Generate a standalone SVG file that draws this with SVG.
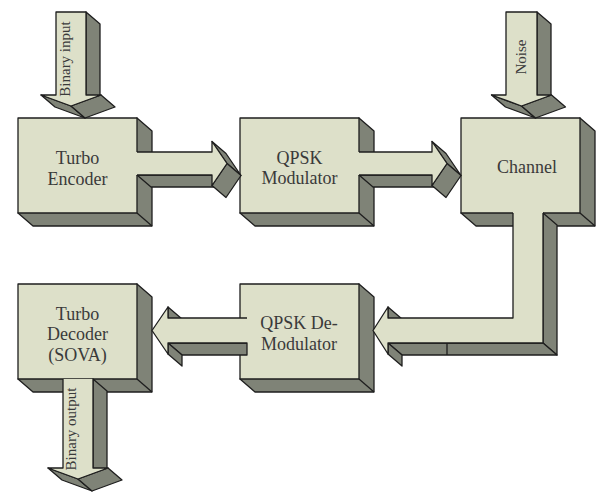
<svg xmlns="http://www.w3.org/2000/svg" width="600" height="492" viewBox="0 0 600 492">
<style>
.lt{fill:#dde0c9;stroke:#1e1e1e;stroke-width:1.3;stroke-linejoin:round}
.dk{fill:#7f8377;stroke:#1e1e1e;stroke-width:1.3;stroke-linejoin:round}
.fl{fill:#dde0c9;stroke:none}
.ln{fill:none;stroke:#1e1e1e;stroke-width:1.3;stroke-linejoin:round}
.t{font-family:"Liberation Serif","Times New Roman",serif;font-size:18px;fill:#3a3a3a;text-anchor:middle}
.r{font-family:"Liberation Serif","Times New Roman",serif;font-size:15px;fill:#3a3a3a;text-anchor:middle}
</style>
<rect width="600" height="492" fill="#ffffff"/>

<g id="turbo-encoder">
<path class="dk" d="M137,118 L152,131 L152,226 L33,226 L18,213 Z"/>
<path class="ln" d="M137,213 L152,226"/>
<rect class="lt" x="18" y="118" width="119" height="95"/>
<text class="t" x="77.5" y="164">Turbo</text>
<text class="t" x="77.5" y="184.5">Encoder</text>
</g>

<g id="qpsk-modulator">
<path class="dk" d="M359,118 L374,131 L374,226 L255,226 L240,213 Z"/>
<path class="ln" d="M359,213 L374,226"/>
<rect class="lt" x="240" y="118" width="119" height="95"/>
<text class="t" x="299.5" y="163.5">QPSK</text>
<text class="t" x="299.5" y="184">Modulator</text>
</g>

<g id="channel">
<path class="dk" d="M580,118 L595,131 L595,226 L476,226 L461,213 Z"/>
<path class="ln" d="M580,213 L595,226"/>
<rect class="lt" x="461" y="118" width="119" height="95"/>
<text class="t" x="527" y="173">Channel</text>
</g>

<g id="turbo-decoder">
<path class="dk" d="M137,284 L152,297 L152,392 L33,392 L18,379 Z"/>
<path class="ln" d="M137,379 L152,392"/>
<rect class="lt" x="18" y="284" width="119" height="95"/>
<text class="t" x="77.5" y="319.5">Turbo</text>
<text class="t" x="77.5" y="340">Decoder</text>
<text class="t" x="77.5" y="360.5">(SOVA)</text>
</g>

<g id="qpsk-demodulator">
<path class="dk" d="M359,284 L374,297 L374,392 L255,392 L240,379 Z"/>
<path class="ln" d="M359,379 L374,392"/>
<rect class="lt" x="240" y="284" width="119" height="95"/>
<text class="t" x="299" y="329">QPSK De-</text>
<text class="t" x="299" y="349.5">Modulator</text>
</g>

<g id="connectors">
<g id="arrow-binary-input">
<path class="dk" d="M86,12 L100,24 L100,107 L86,95 Z"/>
<path class="dk" d="M41,95 L55,107 L85,118 L71,106 Z"/>
<path class="dk" d="M101,95 L115,107 L85,118 L71,106 Z"/>
<path class="lt" d="M56,12 L86,12 L86,95 L101,95 L71,106 L41,95 L56,95 Z"/>
<text class="r" transform="translate(70,59) rotate(-90)">Binary input</text>
</g>
<g id="arrow-noise">
<path class="dk" d="M537,12 L551,24 L551,107 L537,95 Z"/>
<path class="dk" d="M491.5,95 L505.5,107 L535.5,118 L521.5,106 Z"/>
<path class="dk" d="M551.5,95 L565.5,107 L535.5,118 L521.5,106 Z"/>
<path class="lt" d="M506,12 L537,12 L537,95 L551.5,95 L521.5,106 L491.5,95 L506,95 Z"/>
<text class="r" transform="translate(526,57) rotate(-90)">Noise</text>
</g>
<g id="arrow-enc-mod">
<path class="dk" d="M137,175 L212,175 L226,187 L151,187 Z"/>
<path class="dk" d="M212,141.5 L226,153.5 L241,175.5 L227,163.5 Z"/>
<path class="dk" d="M227,163.5 L241,175.5 L226,197.5 L212,185.5 Z"/>
<path class="fl" d="M136,152 L212,152 L212,141.5 L227,163.5 L212,185.5 L212,175 L136,175 Z"/>
<path class="ln" d="M137,152 L212,152 L212,141.5 L227,163.5 L212,185.5 L212,175 L137,175"/>
</g>
<g id="arrow-mod-chan">
<path class="dk" d="M359,175 L432,175 L446,187 L373,187 Z"/>
<path class="dk" d="M432,141.5 L446,153.5 L461,175.5 L447,163.5 Z"/>
<path class="dk" d="M447,163.5 L461,175.5 L446,197.5 L432,185.5 Z"/>
<path class="fl" d="M358,152 L432,152 L432,141.5 L447,163.5 L432,185.5 L432,175 L358,175 Z"/>
<path class="ln" d="M359,152 L432,152 L432,141.5 L447,163.5 L432,185.5 L432,175 L359,175"/>
</g>
<g id="arrow-chan-demod">
<path class="dk" d="M543,213 L557,225 L557,355 L543,343 Z"/>
<path class="dk" d="M388,343 L543,343 L557,355 L402,355 Z"/>
<path class="dk" d="M388,343 L388,354 L402,366 L402,355 Z"/>
<path class="dk" d="M388,307 L402,319 L402,330 L388,318 Z"/>
<path class="ln" d="M447,343 L447,355"/>
<path class="fl" d="M513,212 L543,212 L543,343 L388,343 L388,354 L373,330.5 L388,307 L388,318 L513,318 Z"/>
<path class="ln" d="M513,213 L513,318 L388,318 L388,307 L373,330.5 L388,354 L388,343 L543,343 L543,213"/>
</g>
<g id="arrow-demod-dec">
<path class="dk" d="M168,343 L247,343 L247,355 L182,355 Z"/>
<path class="dk" d="M168,343 L168,354 L182,366 L182,355 Z"/>
<path class="dk" d="M168,307 L182,319 L182,330 L168,318 Z"/>
<path class="fl" d="M247,318 L168,318 L168,307 L152,330.5 L168,354 L168,343 L247,343 Z"/>
<path class="ln" d="M247,318 L168,318 L168,307 L152,330.5 L168,354 L168,343 L247,343"/>
</g>
<g id="arrow-binary-output">
<path class="dk" d="M93,379 L107,391 L107,480 L93,468 Z"/>
<path class="dk" d="M48,468 L62,480 L92,491 L78,479 Z"/>
<path class="dk" d="M108,468 L122,480 L92,491 L78,479 Z"/>
<path class="fl" d="M63,379 L93,379 L93,468 L108,468 L78,479 L48,468 L63,468 Z"/>
<path class="ln" d="M93,379 L93,468 L108,468 L78,479 L48,468 L63,468 L63,379"/>
<text class="r" transform="translate(76,429) rotate(-90)">Binary output</text>
</g>
</g>
</svg>
